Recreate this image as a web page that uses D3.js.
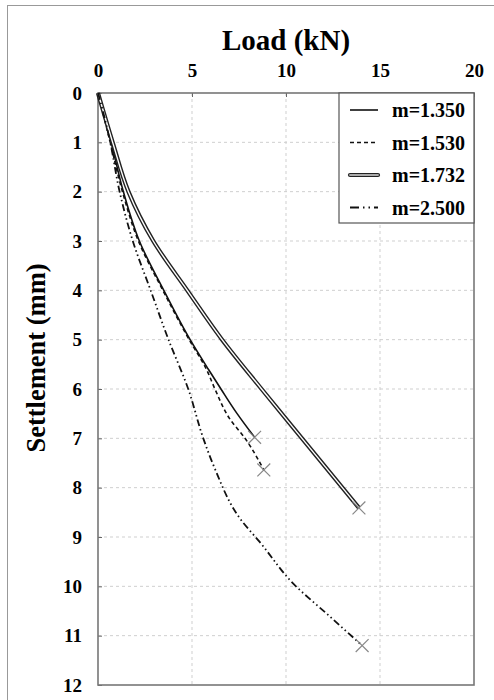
<!DOCTYPE html>
<html>
<head>
<meta charset="utf-8">
<script src="https://cdn.jsdelivr.net/npm/d3@7"></script>
</head>
<body style="margin:0">
<div id="chart"></div>
<script>
// values: load (kN) vs settlement (mm)
const load135 = [0, 0.7, 1.35, 2.2, 3.5, 4.9, 5.87, 6.54, 7.4, 8.33];
const settle135 = [0, 1, 2, 3, 4, 5, 5.6, 6, 6.5, 6.98];

const load153 = [0, 0.65, 1.3, 2.15, 3.45, 4.85, 5.78, 6.22, 7.0, 7.82, 8.82];
const settle153 = [0, 1, 2, 3, 4, 5, 5.61, 6, 6.6, 7, 7.64];

const load173 = [0, 0.78, 1.62, 2.94, 4.75, 6.6, 8.7, 10.85, 13.88];
const settle173 = [0, 1, 2, 3, 4, 5, 6, 7, 8.41];

const load250 = [0, 0.35, 0.65, 1.15, 1.85, 2.8, 3.75, 4.8, 5.6, 6.2, 7.6, 8.6, 10.4, 12.3, 14.05];
const settle250 = [0, 0.5, 1, 2, 3, 4, 5, 6, 7, 7.6, 8.65, 9.1, 9.95, 10.6, 11.2];

const seriesNames = ["m=1.350", "m=1.530", "m=1.732", "m=2.500"];
const xTicks = [0, 5, 10, 15, 20];
const yTicks = d3.range(0, 13);

const width = 494, height = 700;
const margin = { top: 93, right: 20, bottom: 15, left: 98 };
const serif = "'Liberation Serif'";

const svg = d3.select("#chart").append("svg")
  .attr("width", width)
  .attr("height", height);

// outer frame (cut off at right/bottom like the picture)
svg.append("rect")
  .attr("x", 7.5).attr("y", 5.5)
  .attr("width", 520).attr("height", 720)
  .attr("fill", "none")
  .attr("stroke", "#999");

const x = d3.scaleLinear().domain([0, 20]).range([margin.left, width - margin.right]);
const y = d3.scaleLinear().domain([0, 12]).range([margin.top, height - margin.bottom]);

// grid
svg.append("g")
  .selectAll("line")
  .data(xTicks.slice(1, -1))
  .join("line")
  .attr("x1", (d) => x(d)).attr("x2", (d) => x(d))
  .attr("y1", y(0)).attr("y2", y(12))
  .attr("stroke", "#cfcfcf")
  .attr("stroke-dasharray", "3,3");

svg.append("g")
  .selectAll("line")
  .data(yTicks.slice(1, -1))
  .join("line")
  .attr("x1", x(0)).attr("x2", x(20))
  .attr("y1", (d) => y(d)).attr("y2", (d) => y(d))
  .attr("stroke", "#cfcfcf")
  .attr("stroke-dasharray", "3,3");

// axes
const xAxis = svg.append("g")
  .attr("transform", `translate(0,${y(0)})`)
  .call(d3.axisTop(x).tickValues(xTicks).tickSizeInner(-4).tickSizeOuter(0).tickPadding(16));
const yAxis = svg.append("g")
  .attr("transform", `translate(${x(0)},0)`)
  .call(d3.axisLeft(y).tickValues(yTicks).tickSizeInner(-4).tickSizeOuter(0).tickPadding(16));

[xAxis, yAxis].forEach((a) => {
  a.attr("font-family", serif).attr("font-size", 19);
  a.select(".domain").remove();
  a.selectAll("line").attr("stroke", "#666");
  a.selectAll("text")
    .attr("font-family", serif)
    .attr("font-weight", "bold")
    .attr("font-size", 19)
    .attr("fill", "#000");
});

// plot border
svg.append("rect")
  .attr("x", x(0)).attr("y", y(0))
  .attr("width", x(20) - x(0)).attr("height", y(12) - y(0))
  .attr("fill", "none")
  .attr("stroke", "#777")
  .attr("stroke-width", 1.6);

// titles
svg.append("text")
  .attr("x", (x(0) + x(20)) / 2)
  .attr("y", 50)
  .attr("text-anchor", "middle")
  .attr("font-family", serif)
  .attr("font-weight", "bold")
  .attr("font-size", 29)
  .text("Load (kN)");

svg.append("text")
  .attr("transform", `translate(45,358) rotate(-90)`)
  .attr("text-anchor", "middle")
  .attr("font-family", serif)
  .attr("font-weight", "bold")
  .attr("font-size", 26.5)
  .text("Settlement (mm)");

// curves
const line = d3.line().curve(d3.curveMonotoneY).x((d) => x(d[0])).y((d) => y(d[1]));
const zip = (a, b) => a.map((v, i) => [v, b[i]]);

const series = [
  zip(load135, settle135),
  zip(load153, settle153),
  zip(load173, settle173),
  zip(load250, settle250),
];

const styles = [
  [{ stroke: "#111", width: 1.6, dash: null }],
  [{ stroke: "#111", width: 1.6, dash: "4,3" }],
  [{ stroke: "#222", width: 4.2, dash: null }, { stroke: "#fff", width: 1.4, dash: null }],
  [{ stroke: "#111", width: 1.8, dash: "7,3,1.5,3,1.5,3" }],
];

series.forEach((pts, i) => {
  styles[i].forEach((s) => {
    svg.append("path")
      .attr("d", line(pts))
      .attr("fill", "none")
      .attr("stroke", s.stroke)
      .attr("stroke-width", s.width)
      .attr("stroke-dasharray", s.dash);
  });
});

// end markers
svg.append("g")
  .selectAll("path")
  .data(series.map((pts) => pts[pts.length - 1]))
  .join("path")
  .attr("d", d3.symbol().type(d3.symbolX).size(110))
  .attr("transform", (d) => `translate(${x(d[0])},${y(d[1])})`)
  .attr("fill", "none")
  .attr("stroke", "#888")
  .attr("stroke-width", 1.2);

// legend
const lg = svg.append("g");
lg.append("rect")
  .attr("x", 339).attr("y", y(0))
  .attr("width", x(20) - 339).attr("height", 130)
  .attr("fill", "#fff")
  .attr("stroke", "#555")
  .attr("stroke-width", 1.2);

const legendStyles = [
  styles[0],
  styles[1],
  [{ stroke: "#222", width: 4.2, dash: null }, { stroke: "#aaa", width: 1.8, dash: null }],
  [{ stroke: "#111", width: 1.8, dash: "9,4,1.5,4,1.5,4" }],
];

seriesNames.forEach((name, i) => {
  const cy = 110 + i * 32.5;
  legendStyles[i].forEach((s) => {
    lg.append("line")
      .attr("x1", 350).attr("x2", 378)
      .attr("y1", cy).attr("y2", cy)
      .attr("stroke", s.stroke)
      .attr("stroke-width", s.width)
      .attr("stroke-dasharray", s.dash)
      .attr("stroke-linecap", i === 2 ? "round" : "butt");
  });
  lg.append("text")
    .attr("x", 392)
    .attr("y", cy)
    .attr("dy", "0.35em")
    .attr("font-family", serif)
    .attr("font-weight", "bold")
    .attr("font-size", 20)
    .text(name);
});
</script>
</body>
</html>
